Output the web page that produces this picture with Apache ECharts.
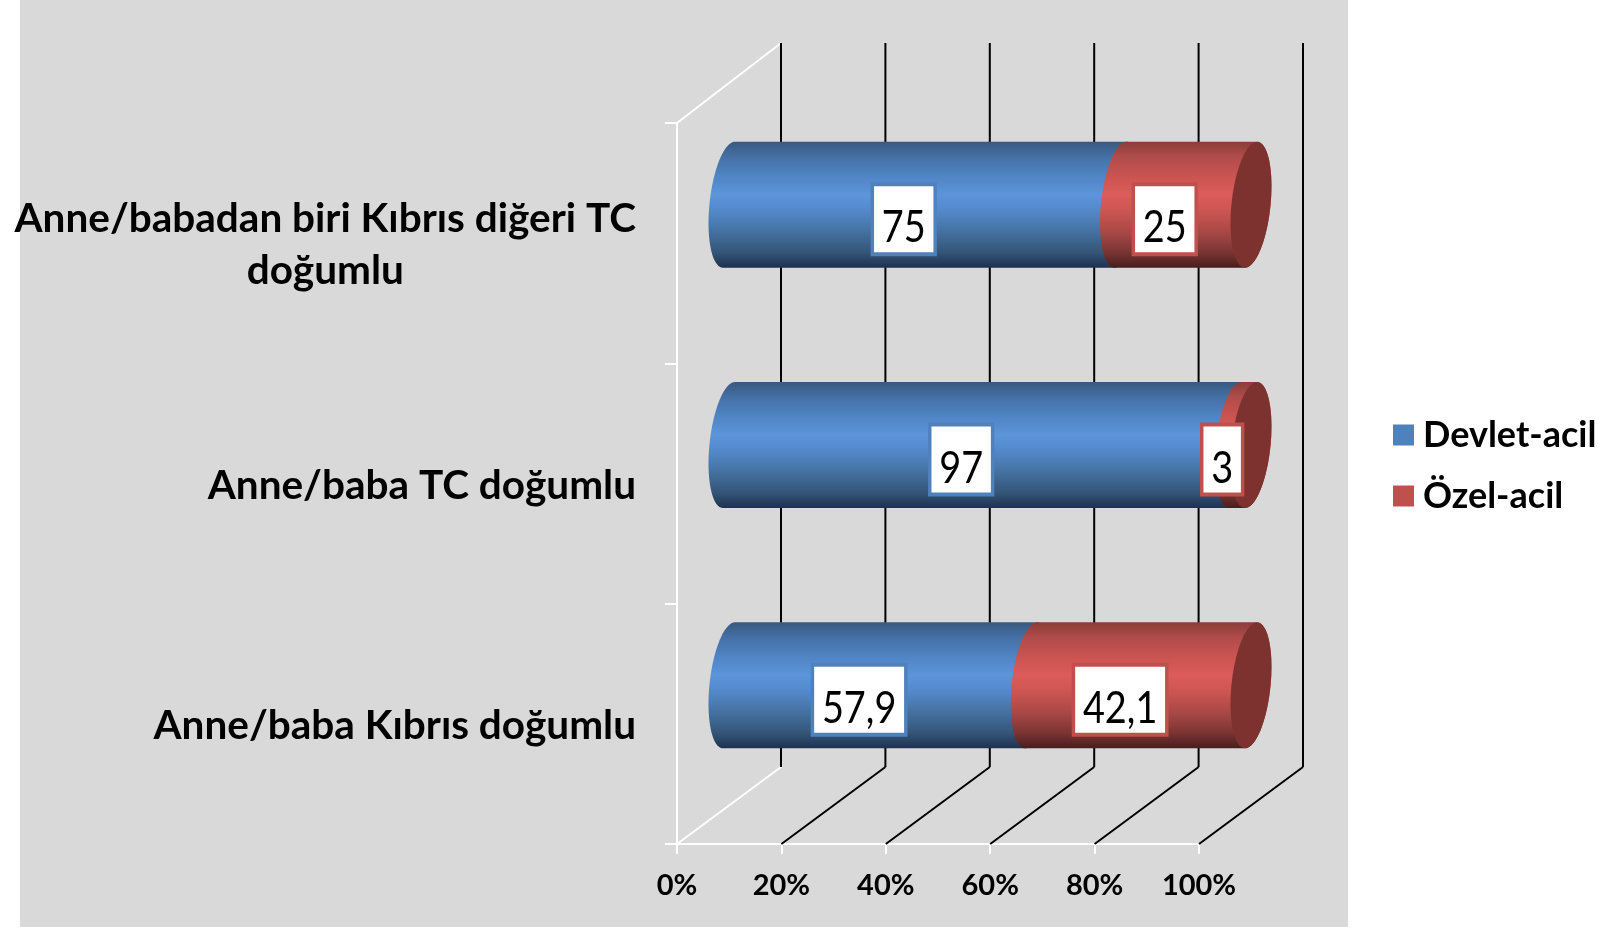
<!DOCTYPE html>
<html>
<head>
<meta charset="utf-8">
<title>Devlet-acil / Özel-acil</title>
<script src="https://cdn.jsdelivr.net/npm/echarts@6/dist/echarts.min.js"></script>
<style>
  html, body { margin: 0; padding: 0; background: #fff; }
  #chart { width: 1620px; height: 928px; }
</style>
</head>
<body>
<div id="chart"></div>
<script>
const categories = ['Anne/baba Kıbrıs doğumlu', 'Anne/baba TC doğumlu', 'Anne/babadan biri Kıbrıs diğeri TC doğumlu'];
const devletAcil = [57.9, 97, 75];
const ozelAcil = [42.1, 3, 25];
const xTicks = [0, 20, 40, 60, 80, 100];

// fake 3d depth of the chart box, in px
const depthX = 104;
const depthY = -77;
const barRy = 63;
const barRx = 19.6;
const barSkew = -6;

const font = 'Lato, "Open Sans", sans-serif';

function ellipsePoints(c, from, to) {
  const pts = [];
  for (let i = 0; i <= 40; i++) {
    const t = (from + (to - from) * i / 40) * Math.PI / 180;
    pts.push([
      c[0] + barRx * Math.cos(t) + barSkew * Math.sin(t),
      c[1] + barRy * Math.sin(t)
    ]);
  }
  return pts;
}

function gradient(stops) {
  return new echarts.graphic.LinearGradient(0, 0, 0, 1, stops.map((s) => ({ offset: s[0], color: s[1] })));
}

const blueStops = [[0, '#39597f'], [0.12, '#4470a6'], [0.28, '#5085c6'], [0.42, '#5c95da'], [0.55, '#5389ca'], [0.72, '#44709f'], [0.88, '#345578'], [1, '#1e3150']];
const redStops = [[0, '#8a3d3b'], [0.12, '#b04c4a'], [0.28, '#cb5451'], [0.42, '#dc5c5a'], [0.55, '#cc5552'], [0.72, '#a84846'], [0.88, '#7a3432'], [1, '#481e1d']];

function barRenderer(stops, borderColor, withCap, labelPadding) {
  return function (params, api) {
    const start = api.value(0);
    const value = api.value(1);
    const cat = api.value(2);
    const a = api.coord([start, cat]);
    const b = api.coord([start + value, cat]);
    const c0 = [a[0] + depthX / 2, a[1] + depthY / 2];
    const c1 = [b[0] + depthX / 2, b[1] + depthY / 2];
    const children = [{
      type: 'polygon',
      shape: { points: ellipsePoints(c0, 270, 90).concat(ellipsePoints(c1, 90, -90)) },
      style: { fill: gradient(stops) }
    }];
    if (withCap) {
      children.push({
        type: 'polygon',
        shape: { points: ellipsePoints(c1, 0, 360) },
        style: { fill: '#7d3230' }
      });
    }
    const mid = api.coord([start + value / 2, cat]);
    children.push({
      type: 'text',
      x: mid[0] + 31,
      y: mid[1] - 24 - 33,
      scaleX: 0.86,
      style: {
        x: 0,
        y: 0,
        text: String(value).replace('.', ','),
        align: 'center',
        // padding only moves the text when it is top aligned
        verticalAlign: 'top',
        font: '400 44px ' + font,
        fill: '#000',
        backgroundColor: '#fff',
        borderColor: borderColor,
        borderWidth: 4,
        padding: labelPadding
      }
    });
    return { type: 'group', children: children };
  };
}

function stackData(values, bases) {
  return values.map((v, i) => [bases ? bases[i] : 0, v, i]);
}

const chart = echarts.init(document.getElementById('chart'));
const option = {
  animation: false,
  graphic: [{
    type: 'rect',
    z: -10,
    shape: { x: 20, y: 0, width: 1328, height: 927 },
    style: { fill: '#d9d9d9' }
  }],
  grid: { left: 677, right: 421, top: 123, bottom: 84 },
  legend: {
    data: ['Devlet-acil', 'Özel-acil'],
    orient: 'vertical',
    left: 1388,
    top: 412,
    icon: 'rect',
    itemWidth: 21,
    itemHeight: 21,
    itemGap: 25,
    textStyle: { fontFamily: font, fontWeight: 700, fontSize: 36, color: '#000', padding: [0, 0, 0, 4] }
  },
  xAxis: {
    type: 'value',
    min: 0,
    max: 100,
    interval: 20,
    splitLine: { show: false },
    axisLine: { show: true, lineStyle: { color: '#fff', width: 2 } },
    axisTick: { show: true, length: 10, lineStyle: { color: '#fff', width: 2 } },
    axisLabel: {
      margin: 27,
      formatter: '{value}%',
      fontFamily: font,
      fontWeight: 700,
      fontSize: 29,
      color: '#000'
    }
  },
  yAxis: {
    type: 'category',
    data: categories,
    axisLine: { show: true, lineStyle: { color: '#fff', width: 2 } },
    axisTick: { show: true, length: 12, lineStyle: { color: '#fff', width: 2 } },
    axisLabel: {
      margin: 41,
      interval: 0,
      fontFamily: font,
      fontWeight: 700,
      fontSize: 40.5,
      lineHeight: 52,
      padding: [4, 0, 0, 0],
      color: '#000',
      formatter: function (v) {
        // only the long one wraps, second line is centred under the first
        if (v.length > 30) {
          return '{c|Anne/babadan biri Kıbrıs diğeri TC}\n{c|doğumlu}';
        }
        return v;
      },
      rich: {
        c: { align: 'center', fontFamily: font, fontWeight: 700, fontSize: 40.5, lineHeight: 52, color: '#000' }
      }
    }
  },
  series: [
    {
      // floor and back wall lines
      type: 'custom',
      name: 'walls',
      silent: true,
      data: xTicks.map((t) => [t]),
      encode: { x: 0 },
      renderItem: function (params, api) {
        const t = api.value(0);
        const front = api.coord([t, 0]);
        const area = params.coordSys;
        const bottom = area.y + area.height;
        const back = [front[0] + depthX, bottom + depthY];
        const top = area.y + depthY - 3;
        const children = [];
        if (t === 0) {
          const wall = { stroke: '#fff', lineWidth: 2, fill: null };
          children.push({ type: 'line', shape: { x1: front[0], y1: bottom, x2: back[0], y2: back[1] }, style: wall });
          children.push({ type: 'line', shape: { x1: front[0], y1: area.y, x2: back[0], y2: top }, style: wall });
        } else {
          children.push({ type: 'line', shape: { x1: front[0], y1: bottom, x2: back[0], y2: back[1] }, style: { stroke: '#000', lineWidth: 2, fill: null } });
        }
        children.push({ type: 'line', shape: { x1: back[0], y1: back[1], x2: back[0], y2: top }, style: { stroke: '#000', lineWidth: 2, fill: null } });
        return { type: 'group', children: children };
      }
    },
    {
      type: 'custom',
      name: 'Devlet-acil',
      itemStyle: { color: '#4f81bd' },
      data: stackData(devletAcil),
      encode: { x: [0, 1], y: 2 },
      renderItem: barRenderer(blueStops, '#4f81bd', false, [20, 9, 2, 9])
    },
    {
      type: 'custom',
      name: 'Özel-acil',
      itemStyle: { color: '#c0504d' },
      data: stackData(ozelAcil, devletAcil),
      encode: { x: [0, 1], y: 2 },
      renderItem: barRenderer(redStops, '#c0504d', true, [20, 9, 2, 9])
    }
  ]
};
chart.setOption(option);
</script>
</body>
</html>
